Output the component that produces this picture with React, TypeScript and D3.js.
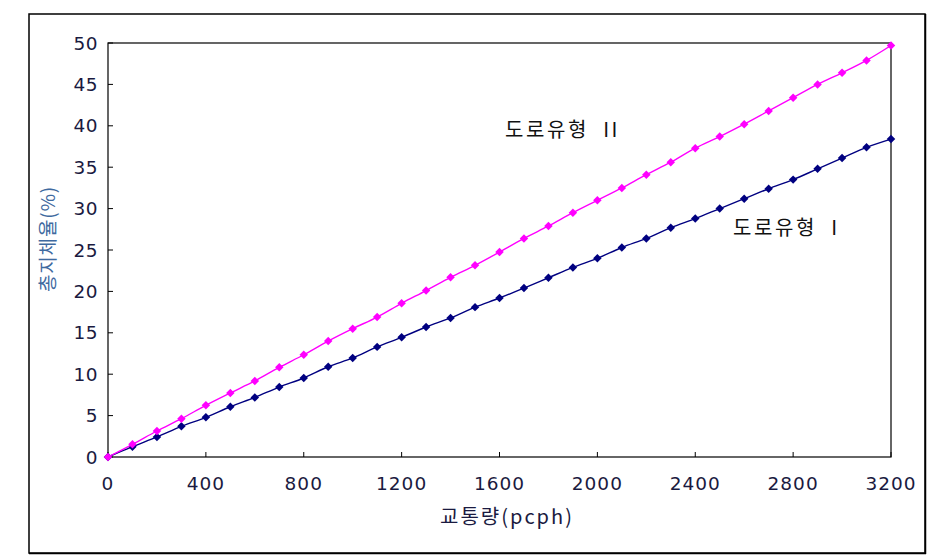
import React from "react";
import * as d3 from "d3";

const flows = [0, 100, 200, 300, 400, 500, 600, 700, 800, 900, 1000, 1100, 1200, 1300, 1400, 1500, 1600, 1700, 1800, 1900, 2000, 2100, 2200, 2300, 2400, 2500, 2600, 2700, 2800, 2900, 3000, 3100, 3200];
const roadType2 = [0, 1.53, 3.14, 4.63, 6.24, 7.73, 9.18, 10.83, 12.35, 14.0, 15.5, 16.9, 18.56, 20.1, 21.7, 23.15, 24.75, 26.4, 27.9, 29.5, 31.0, 32.5, 34.1, 35.6, 37.3, 38.7, 40.2, 41.8, 43.4, 45.0, 46.4, 47.9, 49.7];
const roadType1 = [0, 1.25, 2.42, 3.7, 4.79, 6.07, 7.2, 8.45, 9.54, 10.9, 11.96, 13.3, 14.45, 15.7, 16.8, 18.1, 19.2, 20.4, 21.65, 22.9, 24.0, 25.3, 26.4, 27.7, 28.8, 30.0, 31.2, 32.4, 33.5, 34.8, 36.1, 37.4, 38.4];
const xTicks = [0, 400, 800, 1200, 1600, 2000, 2400, 2800, 3200];
const yTicks = [0, 5, 10, 15, 20, 25, 30, 35, 40, 45, 50];
const seriesNames = ["도로유형  I", "도로유형  II"];
const xTitle = "교통량(pcph)";
const yTitle = "총지체율(%)";

const squareDiamond = {
  draw(ctx: any, size: number) {
    const r = Math.sqrt(size / 2);
    ctx.moveTo(0, -r);
    ctx.lineTo(r, 0);
    ctx.lineTo(0, r);
    ctx.lineTo(-r, 0);
    ctx.closePath();
  },
};

export default function App() {
  const W = 935, H = 560;
  const left = 108, right = 891, top = 43, bottom = 457;
  const x = d3.scaleLinear().domain([0, 3200]).range([left, right]);
  const y = d3.scaleLinear().domain([0, 50]).range([bottom, top]);
  const line = d3.line<number>().x((_, i) => x(flows[i])).y((d) => y(d)).curve(d3.curveCatmullRom.alpha(0.5));
  const diamond = d3.symbol().type(squareDiamond as any).size(36)() as string;
  const numFont = "'DejaVu Sans', sans-serif";
  const krFont = "'Noto Sans CJK KR', 'DejaVu Sans', sans-serif";

  const series = [
    { vals: roadType1, color: "#000080" },
    { vals: roadType2, color: "#FF00FF" },
  ];

  return (
    <svg width={W} height={H} style={{ position: "absolute", left: 0, top: 0, background: "#fff" }}>
      <rect x={0} y={0} width={W} height={H} fill="#fff" />
      <rect x={29} y={14} width={896} height={539} fill="none" stroke="#000" strokeWidth={1.5} />
      <line x1={29} y1={553.5} x2={926} y2={553.5} stroke="#000" strokeWidth={1.5} />
      <line x1={925.5} y1={14} x2={925.5} y2={554} stroke="#000" strokeWidth={1.5} />
      <rect x={left} y={top} width={right - left} height={bottom - top} fill="none" stroke="#000" strokeWidth={1.2} />
      {yTicks.map((t) => (
        <g key={"y" + t}>
          <line x1={left} x2={left + 5} y1={y(t)} y2={y(t)} stroke="#000" strokeWidth={1} />
          <text x={left - 10} y={y(t)} dy="0.36em" textAnchor="end" fontFamily={numFont} fontSize={18.5} letterSpacing={0.5} fill="#1a1a40">{t}</text>
        </g>
      ))}
      {xTicks.map((t) => (
        <g key={"x" + t}>
          <line x1={x(t)} x2={x(t)} y1={bottom} y2={bottom - 5} stroke="#000" strokeWidth={1} />
          <text x={x(t)} y={bottom + 26} dy="0.36em" textAnchor="middle" fontFamily={numFont} fontSize={18.5} letterSpacing={1} fill="#1a1a40">{t}</text>
        </g>
      ))}
      <text x={507} y={524} textAnchor="middle" fontFamily={krFont} fontSize={20} letterSpacing={2} fill="#1a1a40">{xTitle}</text>
      <text transform={`translate(55,239) rotate(-90)`} textAnchor="middle" fontFamily={krFont} fontSize={19} letterSpacing={0.8} fill="#3f6aa0">{yTitle}</text>
      {series.map((s, si) => (
        <g key={si}>
          <path d={line(s.vals) as string} fill="none" stroke={s.color} strokeWidth={1.4} />
          {s.vals.map((v, i) => (
            <path key={i} d={diamond} transform={`translate(${x(flows[i])},${y(v)})`} fill={s.color} />
          ))}
        </g>
      ))}
      <text x={505} y={130} dy="0.36em" fontFamily={krFont} fontSize={20} letterSpacing={2.6} fill="#111" style={{ whiteSpace: "pre" }}>{seriesNames[1]}</text>
      <text x={733} y={228} dy="0.36em" fontFamily={krFont} fontSize={20} letterSpacing={2.6} fill="#111" style={{ whiteSpace: "pre" }}>{seriesNames[0]}</text>
    </svg>
  );
}
